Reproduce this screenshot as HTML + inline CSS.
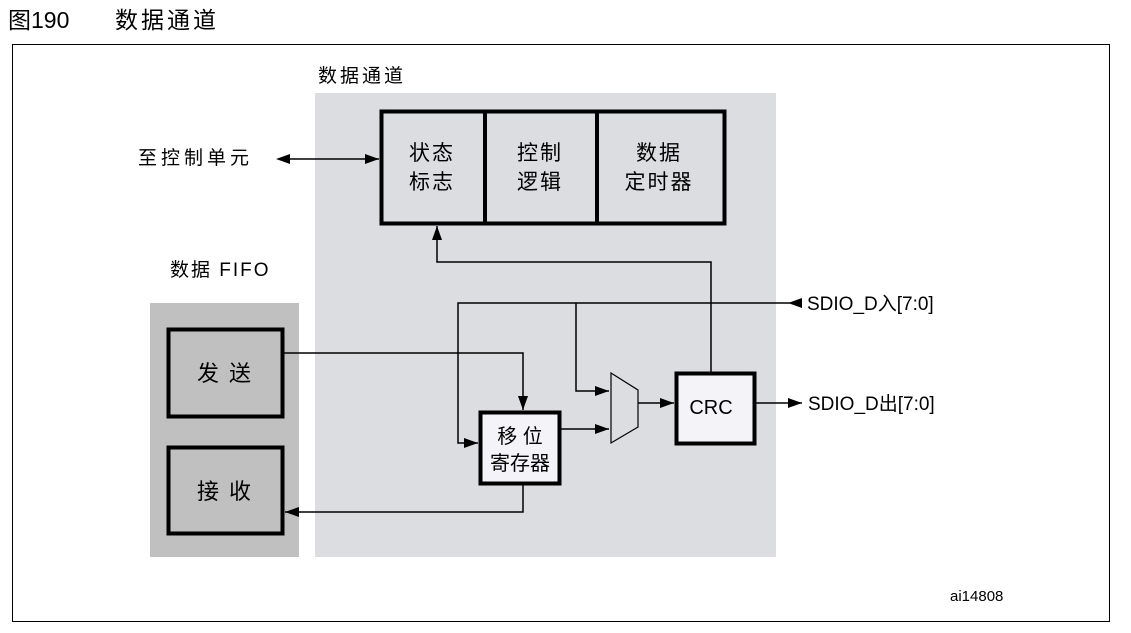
<!DOCTYPE html>
<html><head><meta charset="utf-8"><style>
body{margin:0;background:#fff;}
svg text{font-family:"Liberation Sans","Noto Sans CJK SC",sans-serif;fill:#000;}
</style></head><body>
<svg width="1131" height="628" viewBox="0 0 1131 628" xmlns="http://www.w3.org/2000/svg">
<defs><marker id="a" markerWidth="14" markerHeight="10" refX="14" refY="5" orient="auto" markerUnits="userSpaceOnUse"><path d="M0,0 L14,5 L0,10 z" fill="#000"/></marker></defs>
<text x="8" y="28" font-size="23">图190</text>
<text x="115" y="28" font-size="23" letter-spacing="3">数据通道</text>
<rect x="12.5" y="44.5" width="1097" height="577" fill="none" stroke="#000" stroke-width="1"/>
<rect x="315" y="93" width="461" height="464" fill="#dcdde0"/>
<rect x="150" y="303" width="149" height="254" fill="#c0c0c0"/>
<text x="318" y="82" font-size="19" letter-spacing="3">数据通道</text>
<text x="170" y="276" font-size="19" letter-spacing="2">数据 FIFO</text>
<text x="138" y="164" font-size="19" letter-spacing="4">至控制单元</text>
<rect x="381.5" y="111.5" width="343" height="112" fill="#dcdde0" stroke="#000" stroke-width="4"/>
<line x1="485" y1="111" x2="485" y2="224" stroke="#000" stroke-width="4"/>
<line x1="597" y1="111" x2="597" y2="224" stroke="#000" stroke-width="4"/>
<text x="432" y="160" font-size="21" text-anchor="middle" letter-spacing="2">状态</text>
<text x="432" y="189" font-size="21" text-anchor="middle" letter-spacing="2">标志</text>
<text x="540" y="160" font-size="21" text-anchor="middle" letter-spacing="2">控制</text>
<text x="540" y="189" font-size="21" text-anchor="middle" letter-spacing="2">逻辑</text>
<text x="659" y="160" font-size="21" text-anchor="middle" letter-spacing="2">数据</text>
<text x="659" y="189" font-size="21" text-anchor="middle" letter-spacing="2">定时器</text>
<line x1="290" y1="159" x2="379" y2="159" stroke="#000" stroke-width="1.5" marker-end="url(#a)"/>
<path d="M290,154 L276,159 L290,164 z"/>
<rect x="168.5" y="329.5" width="114" height="87" fill="#c0c0c0" stroke="#000" stroke-width="4"/>
<rect x="168.5" y="447.5" width="114" height="86" fill="#c0c0c0" stroke="#000" stroke-width="4"/>
<text x="225" y="381" font-size="22" text-anchor="middle" letter-spacing="2">发 送</text>
<text x="225" y="499" font-size="22" text-anchor="middle" letter-spacing="2">接 收</text>
<rect x="480.5" y="412.5" width="79" height="71" fill="#f4f4f8" stroke="#000" stroke-width="4"/>
<text x="520" y="443" font-size="20" text-anchor="middle">移 位</text>
<text x="520" y="470" font-size="20" text-anchor="middle">寄存器</text>
<rect x="676.5" y="373.5" width="78" height="70" fill="#f4f4f8" stroke="#000" stroke-width="4"/>
<text x="711" y="414" font-size="20" text-anchor="middle">CRC</text>
<path d="M611,373 L638,390 L638,427 L611,443 z" fill="#dcdde0" stroke="#000" stroke-width="1.2"/>
<g fill="none" stroke="#000" stroke-width="1.5">
<polyline points="790,303 458,303 458,443 478,443" marker-end="url(#a)"/>
<polyline points="576,303 576,391 609,391" marker-end="url(#a)"/>
<polyline points="561,429 609,429" marker-end="url(#a)"/>
<polyline points="638,403 674,403" marker-end="url(#a)"/>
<polyline points="283,353 523,353 523,410" marker-end="url(#a)"/>
<polyline points="523,485 523,512 285,512" marker-end="url(#a)"/>
<polyline points="711,372 711,262 437,262 437,226" marker-end="url(#a)"/>
<polyline points="756,403 802,403" marker-end="url(#a)"/>
</g>
<path d="M802,298 L788,303 L802,308 z"/>
<text x="807" y="310" font-size="19">SDIO_D入[7:0]</text>
<text x="808" y="410" font-size="19">SDIO_D出[7:0]</text>
<text x="950" y="601" font-size="15">ai14808</text>
</svg>
</body></html>
